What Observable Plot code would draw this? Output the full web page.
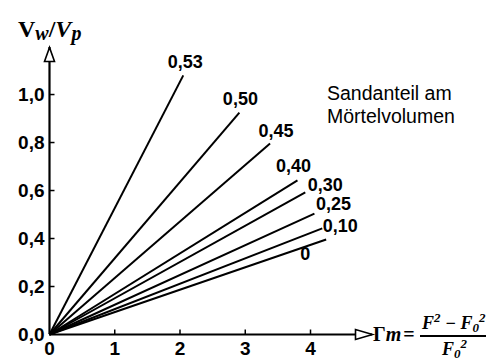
<!DOCTYPE html>
<html><head><meta charset="utf-8">
<script src="https://cdn.jsdelivr.net/npm/d3@7"></script>
<script src="https://cdn.jsdelivr.net/npm/@observablehq/plot@0.6"></script>
<style>html,body{margin:0;padding:0;background:#fff} svg{display:block}</style>
</head><body><div id="chart"></div>
<script>
// ---- data ----
const sandLabels = ["0,53", "0,50", "0,45", "0,40", "0,30", "0,25", "0,10", "0"];
const endX = [2.05, 2.91, 3.38, 3.80, 3.92, 4.06, 4.18, 4.24];
const endY = [1.08, 0.925, 0.796, 0.642, 0.592, 0.504, 0.442, 0.396];
const xTicks = [0, 1, 2, 3, 4];
const xTickLabels = ["0", "1", "2", "3", "4"];
const yTicks = [0, 0.2, 0.4, 0.6, 0.8, 1.0];
const yTickLabels = ["0,0", "0,2", "0,4", "0,6", "0,8", "1,0"];
const legendLines = ["Sandanteil am", "Mörtelvolumen"];

// ---- label offsets (style) ----
const labelOffsets = [[2, -13], [1, -13], [6, -12], [-4, -14], [20, -7], [19, -9], [18, -2], [-21, 15]];

const W = 486, H = 362;
const X_MAX = 4.95, Y_MAX = 1.196;
const rows = sandLabels.map((label, i) => ({label, x: endX[i], y: endY[i]}));

const tickUp = {draw(c) { c.moveTo(0, 0); c.lineTo(0, -5); }};
const tickRight = {draw(c) { c.moveTo(0, 0); c.lineTo(5, 0); }};
const arrowUp = {draw(c) { c.moveTo(0, 0); c.lineTo(-5, 14); c.lineTo(5, 14); c.closePath(); }};
const arrowRight = {draw(c) { c.moveTo(0, 0); c.lineTo(-17, -5); c.lineTo(-17, 5); c.closePath(); }};

const sans = "'Liberation Sans', Arial, sans-serif";
const serif = "'Liberation Serif', 'Times New Roman', serif";

const plot = Plot.plot({
  width: W, height: H,
  marginLeft: 49, marginRight: W - 372, marginTop: 47, marginBottom: 28,
  x: {domain: [0, X_MAX]},
  y: {domain: [0, Y_MAX]},
  style: {fontFamily: sans, color: "#000", background: "#fff", overflow: "visible"},
  marks: [
    Plot.axisX({ticks: xTicks, tickSize: 0, tickPadding: 7, fontSize: 19, fontWeight: "bold", label: null,
      tickFormat: d => xTickLabels[xTicks.indexOf(d)]}),
    Plot.axisY({ticks: yTicks, tickSize: 0, tickPadding: 5, fontSize: 19, fontWeight: "bold", label: null,
      tickFormat: d => yTickLabels[yTicks.indexOf(d)]}),
    Plot.link(rows, {x1: 0, y1: 0, x2: "x", y2: "y", stroke: "#000", strokeWidth: 2}),
    Plot.ruleY([0], {x1: 0, x2: X_MAX, stroke: "#000", strokeWidth: 2.2}),
    Plot.ruleX([0], {y1: 0, y2: Y_MAX, stroke: "#000", strokeWidth: 2.2}),
    Plot.dot(xTicks.slice(1), {x: d => d, y: 0, symbol: tickUp, r: 5, stroke: "#000", strokeWidth: 1.5, fill: "none"}),
    Plot.dot(yTicks.slice(1), {x: 0, y: d => d, symbol: tickRight, r: 5, stroke: "#000", strokeWidth: 1.5, fill: "none"}),
    Plot.dot([Y_MAX], {x: 0, y: d => d, symbol: arrowUp, r: 5, stroke: "#000", strokeWidth: 1.6, fill: "#fff"}),
    Plot.dot([X_MAX], {x: d => d, y: 0, symbol: arrowRight, r: 5, stroke: "#000", strokeWidth: 1.6, fill: "#fff"}),
    ...rows.map((r, i) => Plot.text([r], {x: "x", y: "y", text: "label", dx: labelOffsets[i][0], dy: labelOffsets[i][1],
      fontSize: 18, fontWeight: "bold", fill: "#000"}))
  ]
});

const svg = d3.select(plot);
const xs = plot.scale("x"), ys = plot.scale("y");

// legend text
svg.append("text").attr("font-family", sans).attr("font-size", 19.5).attr("fill", "#000").attr("text-anchor", "start")
  .selectAll("tspan").data(legendLines).join("tspan")
  .attr("x", 327).attr("y", (d, i) => 100 + i * 23).text(d => d);

// y-axis title V_w / V_p
const yt = svg.append("text").attr("font-family", serif).attr("font-size", 24).attr("font-weight", "bold")
  .attr("text-anchor", "start").attr("x", 18).attr("y", 37).attr("fill", "#000");
yt.append("tspan").text("V");
yt.append("tspan").attr("font-style", "italic").attr("font-size", 20).attr("dy", 3).text("w");
yt.append("tspan").attr("dy", -3).text("/");
yt.append("tspan").attr("font-style", "italic").text("V");
yt.append("tspan").attr("font-style", "italic").attr("font-size", 20).attr("dy", 3).text("p");

// x-axis title Γm = (F² − F₀²)/F₀²
const tipX = xs.apply(X_MAX), axY = ys.apply(0);
const xt = svg.append("g").attr("font-family", serif).attr("font-weight", "bold").attr("fill", "#000").attr("text-anchor", "start");
xt.append("text").attr("x", tipX + 1).attr("y", axY + 7).attr("font-size", 20)
  .html('<tspan>Γ</tspan><tspan font-style="italic">m</tspan><tspan dx="2">=</tspan>');
xt.append("line").attr("x1", tipX + 48).attr("x2", W + 4).attr("y1", axY + 2).attr("y2", axY + 2)
  .attr("stroke", "#000").attr("stroke-width", 1.8);
xt.append("text").attr("x", tipX + 50).attr("y", axY - 5).attr("font-size", 18).attr("font-style", "italic")
  .html('F<tspan font-size="13" dy="-7">2</tspan><tspan dy="7"> − F</tspan><tspan font-size="13" dy="3">0</tspan><tspan font-size="13" dy="-10">2</tspan>');
xt.append("text").attr("x", tipX + 70).attr("y", axY + 21).attr("font-size", 18).attr("font-style", "italic")
  .html('F<tspan font-size="13" dy="3">0</tspan><tspan font-size="13" dy="-10">2</tspan>');

document.getElementById("chart").appendChild(plot);
</script>
</body></html>
